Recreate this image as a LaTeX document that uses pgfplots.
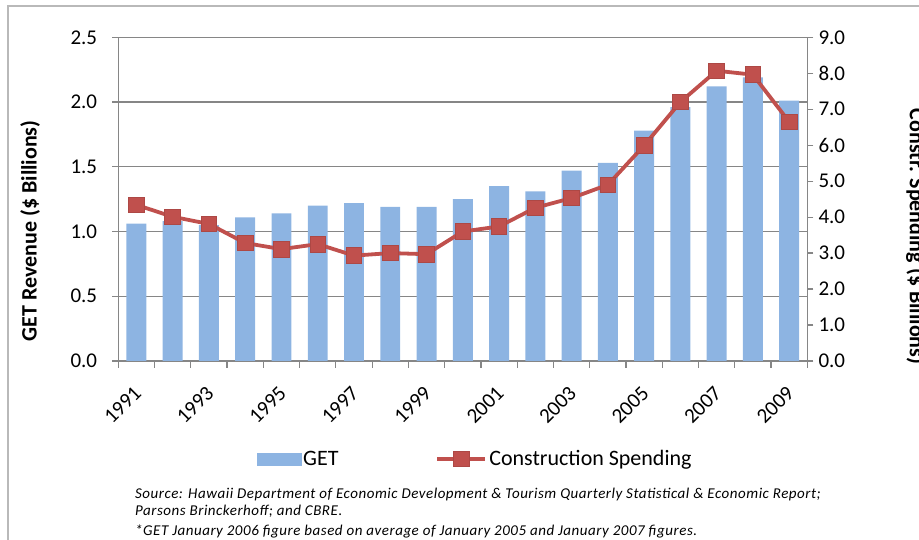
\documentclass[border=0pt]{standalone}
\usepackage{pgfplots}
\pgfplotsset{compat=1.18}
\usepackage{fontspec}
\setmainfont{Carlito}
\definecolor{barblue}{RGB}{141,180,226}
\definecolor{linered}{RGB}{192,80,77}
\definecolor{axisgray}{RGB}{134,134,134}
\pgfplotstableread{
x year get constr
0 1991 1.06 4.34
1 1992 1.08 4.01
2 1993 1.05 3.81
3 1994 1.11 3.28
4 1995 1.14 3.11
5 1996 1.20 3.25
6 1997 1.22 2.93
7 1998 1.19 3.00
8 1999 1.19 2.97
9 2000 1.25 3.60
10 2001 1.35 3.74
11 2002 1.31 4.26
12 2003 1.47 4.53
13 2004 1.53 4.90
14 2005 1.78 5.99
15 2006 1.96 7.20
16 2007 2.12 8.07
17 2008 2.19 7.96
18 2009 2.01 6.65
}\datatable
\pgfplotsset{
  common/.style={
    at={(118.3pt,179pt)}, anchor=south west,
    scale only axis, width=689pt, height=323.7pt,
    xmin=-0.5, xmax=18.5,
    tick align=outside,
    major tick length=6pt,
    minor tick length=7pt,
    tick style={draw=axisgray, line width=1.2pt},
    axis line style={draw=axisgray, line width=1.2pt, -},
    tick label style={font=\fontsize{21}{24}\selectfont, inner sep=1pt},
    /pgf/number format/.cd, fixed, fixed zerofill, precision=1, assume math mode=true,
  },
  redlegend/.style={legend image code/.code={\draw[mark repeat=2,mark phase=2,##1] plot coordinates {(0pt,0pt) (24pt,0pt) (48pt,0pt)};}},
  barlegend/.style={legend image code/.code={\fill[barblue] (0pt,-6pt) rectangle (44pt,6pt);}},
}
\begin{document}
\begin{tikzpicture}[x=1pt,y=1pt]
\useasboundingbox (0,0) rectangle (919,540);
\draw[gray!55, line width=1.6pt] (7.7,-20) rectangle (950,534);
\begin{axis}[common,
  ymin=0, ymax=2.5, ytick={0,0.5,...,2.5},
  ytick pos=left, xtick pos=bottom,
  ymajorgrids, grid style={draw=axisgray, line width=1.2pt},
  axis x line*=bottom, axis y line*=left,
  xtick={0,2,...,18},
  xticklabels={1991,1993,1995,1997,1999,2001,2003,2005,2007,2009},
  minor xtick={-0.5,0.5,...,18.5},
  major x tick style={draw=none},
  xticklabel style={yshift=-22pt, xshift=2pt, rotate=45, anchor=east},
  yticklabel style={xshift=-14pt},
  every axis y label/.style={at={(axis description cs:-0.128,0.754)}, rotate=90, anchor=east,
     font=\bfseries\fontsize{22}{26}\selectfont},
  ylabel={GET Revenue (\$ Billions)},
]
\addplot[ybar, bar width=0.55, fill=barblue, draw=none] table[x=x, y=get] {\datatable};
\end{axis}
\begin{axis}[common,
  ymin=0, ymax=9, ytick={0,1,...,9},
  axis y line*=right, axis x line=none,
  yticklabel style={xshift=4pt},
  every axis y label/.style={at={(axis description cs:1.158,0.79)}, rotate=-90, anchor=west,
     font=\bfseries\fontsize{22}{26}\selectfont},
  ylabel={Constr. Spending (\$ Billions)},
  legend columns=2,
  legend cell align=left,
  legend style={at={(axis description cs:0.518,-0.303)}, anchor=center, draw=none, fill=none,
     font=\fontsize{22}{26}\selectfont,
     nodes={inner sep=2pt},
     /tikz/every even column/.append style={column sep=95pt}},
]
\addlegendimage{barlegend}
\addlegendentry{GET}
\addplot[color=linered, line width=3.8pt, mark=square*, mark size=7.8pt,
   mark options={fill=linered, draw=linered!90!black, line width=0.8pt}, redlegend]
   table[x=x, y=constr] {\datatable};
\addlegendentry{Construction Spending}
\end{axis}
\begin{scope}[font=\itshape\fontsize{15}{18}\selectfont\addfontfeatures{LetterSpace=3.5}]
\node[anchor=base west, inner sep=0] at (135,41) {Source: Hawaii Department of Economic Development \& Tourism Quarterly Statistical \& Economic Report;};
\node[anchor=base west, inner sep=0] at (135,24) {Parsons Brinckerhoff; and CBRE.};
\node[anchor=base west, inner sep=0] at (135,4) {*GET January 2006 figure based on average of January 2005 and January 2007 figures.};
\end{scope}
\end{tikzpicture}
\end{document}
